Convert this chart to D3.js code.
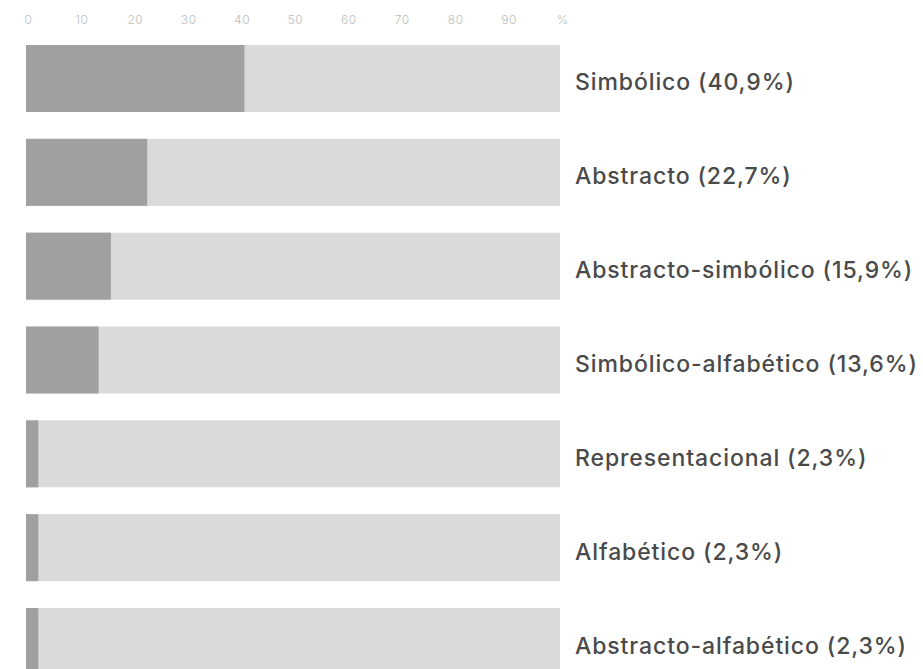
<!DOCTYPE html>
<html>
<head>
<meta charset="utf-8">
<script src="https://cdn.jsdelivr.net/npm/d3@7"></script>
<style>
  html, body { margin: 0; padding: 0; background: #fff; }
  svg { display: block; }
</style>
</head>
<body>
<svg id="chart" width="923" height="669"></svg>
<script>
// Categories and their shares (percent)
const categories = [
  "Simbólico",
  "Abstracto",
  "Abstracto-simbólico",
  "Simbólico-alfabético",
  "Representacional",
  "Alfabético",
  "Abstracto-alfabético"
];
const values = [40.9, 22.7, 15.9, 13.6, 2.3, 2.3, 2.3];
const tickValues = [0, 10, 20, 30, 40, 50, 60, 70, 80, 90, 100];
const tickLabels = ["0", "10", "20", "30", "40", "50", "60", "70", "80", "90", "%"];

const fmt = v => v.toFixed(1).replace(".", ",");

const svg = d3.select("#chart");

const x = d3.scaleLinear().domain([0, 100]).range([26, 560]);
const y = d3.scaleBand()
  .domain(categories)
  .range([45, 675])
  .paddingInner(0.286)
  .paddingOuter(0);

// Percentage scale along the top
const axis = d3.axisTop(x)
  .tickValues(tickValues)
  .tickSize(0)
  .tickPadding(0)
  .tickFormat((d, i) => tickLabels[i]);

const ax = svg.append("g")
  .attr("transform", "translate(2,23.5)")
  .call(axis);
ax.select(".domain").remove();
ax.selectAll("text")
  .attr("dy", 0)
  .style("font-family", "Inter, 'Open Sans', sans-serif")
  .style("font-weight", 300)
  .style("font-size", "12px")
  .style("letter-spacing", "0.5px")
  .style("fill", "#bdbdbd");

const rows = svg.append("g")
  .selectAll("g")
  .data(categories)
  .join("g");

// Full-width track
rows.append("rect")
  .attr("x", x(0))
  .attr("y", d => y(d))
  .attr("width", x(100) - x(0))
  .attr("height", y.bandwidth())
  .attr("fill", "#dadada");

// Value bar
rows.append("rect")
  .attr("x", x(0))
  .attr("y", d => y(d))
  .attr("width", (d, i) => x(values[i]) - x(0))
  .attr("height", y.bandwidth())
  .attr("fill", "#a0a0a0");

// Category label with value
rows.append("text")
  .attr("x", 575)
  .attr("y", d => y(d) + y.bandwidth() / 2 + 12)
  .style("font-family", "Inter, 'Open Sans', sans-serif")
  .style("font-weight", 500)
  .style("font-size", "23px")
  .style("letter-spacing", "0.9px")
  .style("fill", "#4a4a4a")
  .text((d, i) => `${d} (${fmt(values[i])}%)`);
</script>
</body>
</html>
